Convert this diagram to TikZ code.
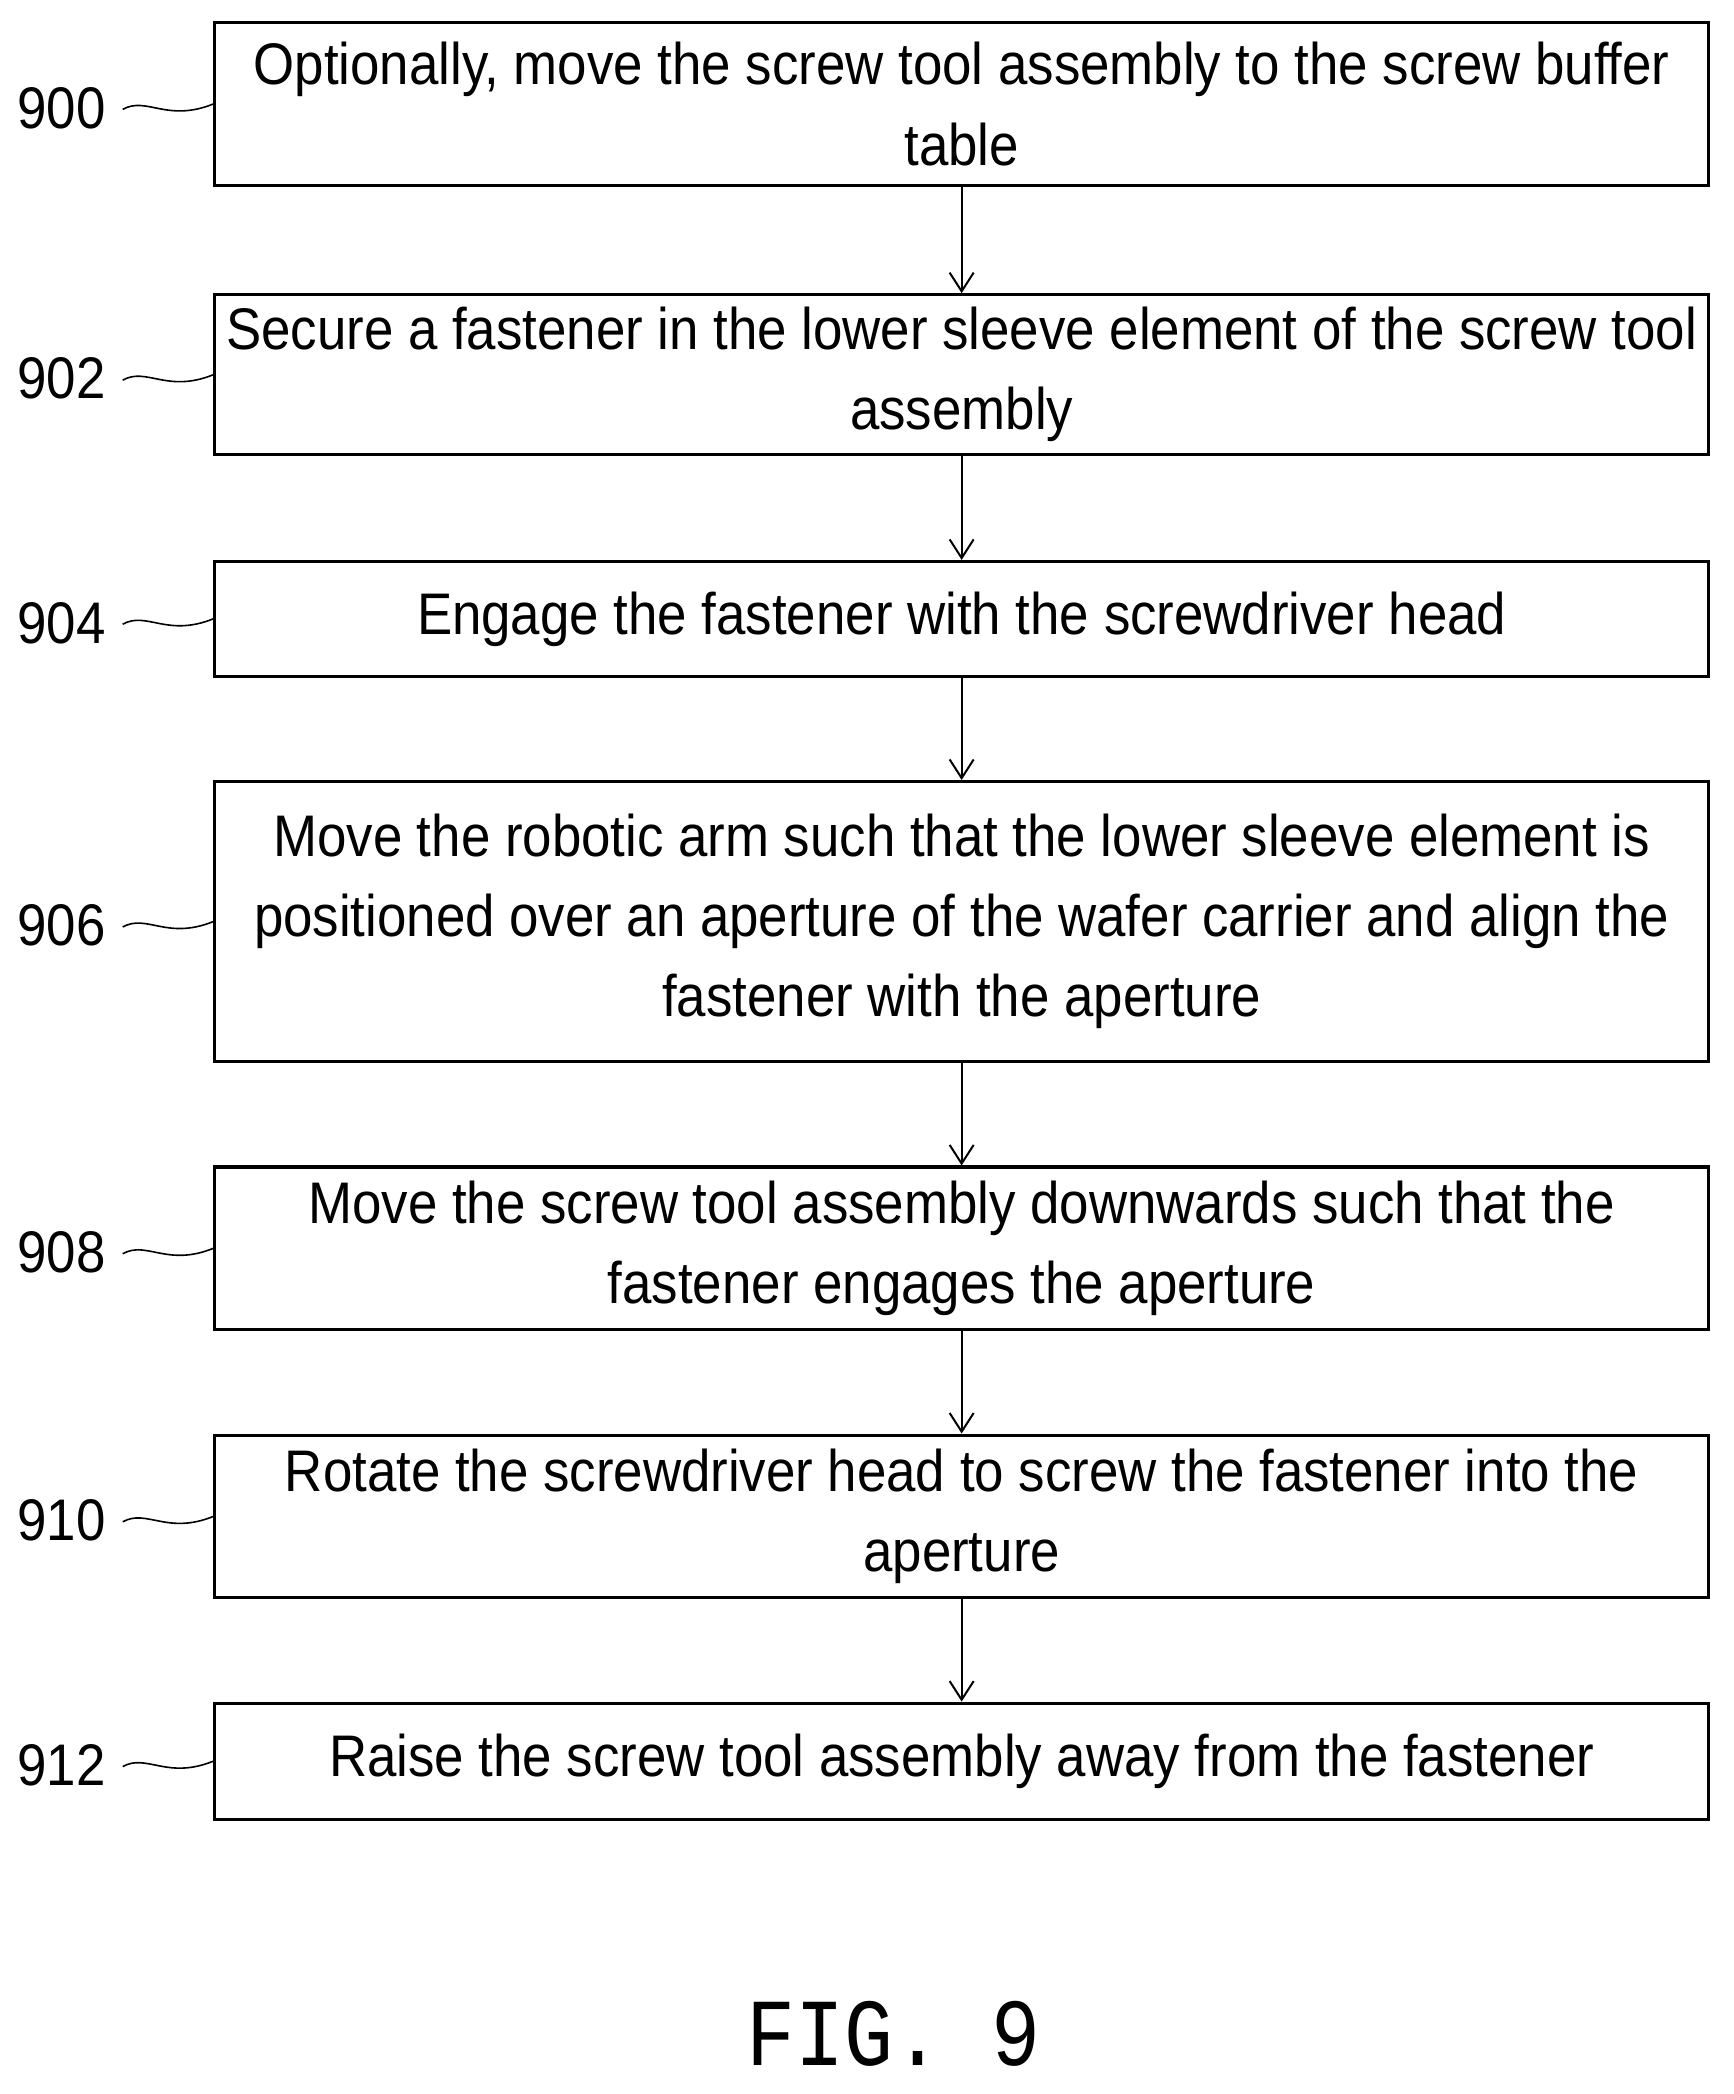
\documentclass[tikz,border=0pt]{standalone}
\usepackage{fontspec}
\setmainfont{Liberation Sans}[FakeStretch=0.9]
\newfontfamily\figfont{Liberation Mono}[FakeStretch=0.85]
\usetikzlibrary{arrows.meta}
\begin{document}
\begin{tikzpicture}[x=1pt,y=-1pt,
  box/.style={draw,line width=2.4pt,inner sep=0pt,align=center,font=\fontsize{44}{60}\selectfont},
  lab/.style={font=\fontsize{44}{50}\selectfont},
  arr/.style={line width=1.5pt,-{Straight Barb[length=14pt,width=18pt]}},
  sq/.style={line width=1.2pt}]
\useasboundingbox (0,0) rectangle (1300,1570);
\fill[white] (0,0) rectangle (1300,1570);
\def\bx#1#2#3#4#5{%
 \node[box,minimum width=1120pt,minimum height=#3-#2 pt] (#1) at (721,{(#2+#3)/2}) {#4};
 \node[lab] (l#1) at (46,{(#2+#3)/2+3}) {#5};
 \draw[sq] (92,{(#2+#3)/2+4}) .. controls (110,{(#2+#3)/2-6}) and (125,{(#2+#3)/2+14}) .. (#1.west);
}
\bx{a}{17}{139}{Optionally, move the screw tool assembly to the screw buffer\\table}{900}
\bx{b}{221}{341}{Secure a fastener in the lower sleeve element of the screw tool\\assembly}{902}
\bx{c}{421}{507}{Engage the fastener with the screwdriver head}{904}
\bx{d}{586}{796}{Move the robotic arm such that the lower sleeve element is\\positioned over an aperture of the wafer carrier and align the\\fastener with the aperture}{906}
\bx{e}{875}{997}{Move the screw tool assembly downwards such that the\\fastener engages the aperture}{908}
\bx{f}{1076}{1198}{Rotate the screwdriver head to screw the fastener into the\\aperture}{910}
\bx{g}{1277}{1364}{Raise the screw tool assembly away from the fastener}{912}
\foreach \p/\q in {a/b,b/c,c/d,d/e,e/f,f/g} \draw[arr] (\p) -- (\q);
\node[font=\figfont\fontsize{72}{80}\selectfont] (fig) at (670,1525) {FIG. 9};
\end{tikzpicture}
\end{document}
